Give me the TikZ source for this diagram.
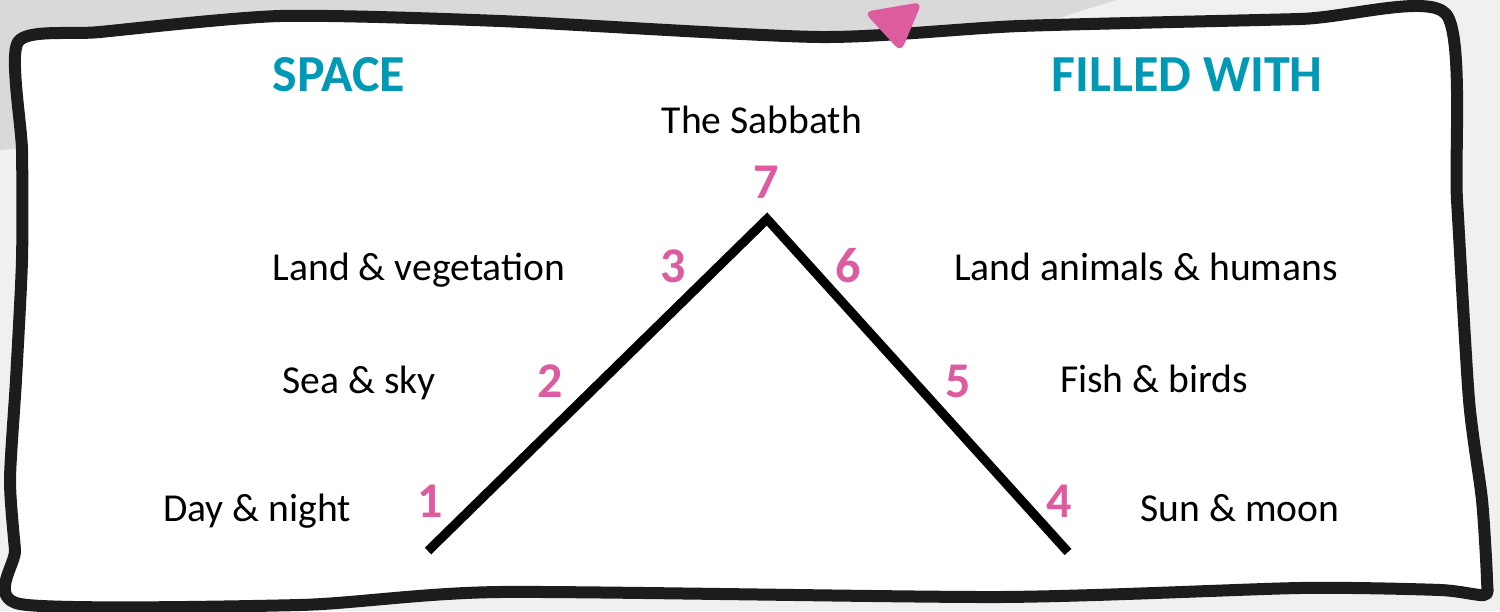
\documentclass[tikz,border=0pt]{standalone}
\usepackage{fontspec}
\setmainfont{Carlito}
\definecolor{headteal}{HTML}{0099B5}
\definecolor{numpink}{HTML}{DC5C9F}
\definecolor{cardline}{HTML}{1C1C1C}
\definecolor{bgpale}{HTML}{F0F0F0}
\definecolor{bgshade}{HTML}{D9D9D9}
\begin{document}
\begin{tikzpicture}[x=0.5pt,y=-0.5pt,line join=round,
  heading/.style={anchor=base,text=headteal,font=\fontsize{26}{28}\selectfont\bfseries},
  daytext/.style={anchor=base,text=black,font=\fontsize{19.8}{22}\selectfont},
  daynum/.style={anchor=base,text=numpink,font=\fontsize{25}{28}\selectfont\bfseries}]
  \useasboundingbox (0,0) rectangle (1500,611);
  \fill[bgpale] (0,0) rectangle (1500,611);
  \fill[bgshade] (0,0) -- (1116,0) -- (950,52) -- (0,150) -- cycle;
  \filldraw[fill=white,draw=cardline,line width=6pt] plot[smooth cycle,tension=0.4] coordinates {
    (18,42) (100,32) (280,16) (500,21) (820,37) (1020,26) (1300,19) (1446,14)
    (1457,200) (1469,400) (1482,500) (1487,580) (1484,595) (1440,590) (1300,588)
    (1000,597) (500,592) (300,605) (20,604) (15,550) (10,480) (16,380) (22,260) (22,150)};
  \fill[numpink,rounded corners=4pt] (864,12) -- (922,2) -- (901,52) -- cycle;
  \coordinate (baseL) at (428,551);
  \coordinate (apex) at (767,219);
  \coordinate (baseR) at (1068,552);
  \draw[line width=4.6pt,line join=miter,line cap=butt] (baseL) -- (apex) -- (baseR);
  \node[heading] (space) at (339,91) {SPACE};
  \node[heading] (filled) at (1187,91) {FILLED WITH};
  \node[daytext] (sabbath) at (762,133) {The Sabbath};
  \node[daytext] (landveg) at (419,280) {Land \& vegetation};
  \node[daytext] (seasky) at (359,393) {Sea \& sky};
  \node[daytext] (daynight) at (257,521) {Day \& night};
  \node[daytext] (landanim) at (1146,280) {Land animals \& humans};
  \node[daytext] (fishbirds) at (1154,392) {Fish \& birds};
  \node[daytext] (sunmoon) at (1240,521) {Sun \& moon};
  \node[daynum] (n1) at (430,517) {1};
  \node[daynum] (n2) at (550,397) {2};
  \node[daynum] (n3) at (673,282) {3};
  \node[daynum] (n4) at (1059,517) {4};
  \node[daynum] (n5) at (958,397) {5};
  \node[daynum] (n6) at (848,282) {6};
  \node[daynum] (n7) at (766,198) {7};
\end{tikzpicture}
\end{document}
